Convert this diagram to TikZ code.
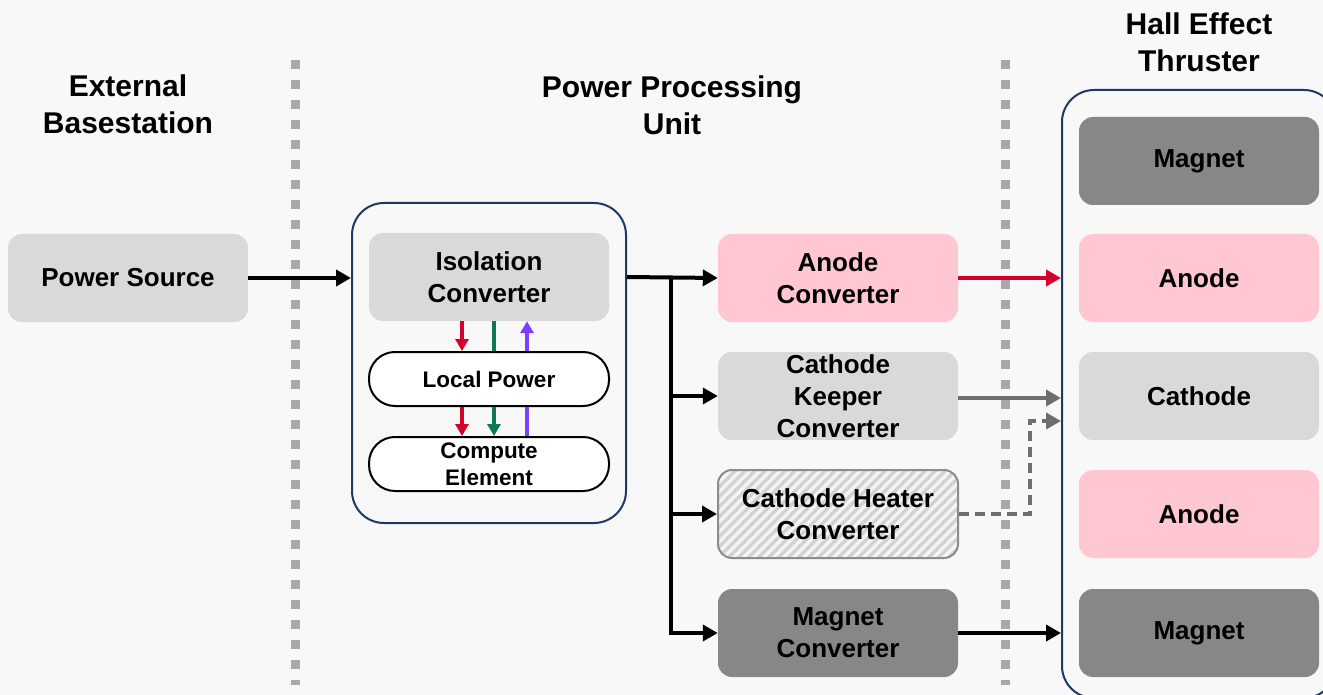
\documentclass[tikz,border=0pt]{standalone}
\usepackage{fontspec}
\setmainfont{Liberation Sans}
\usetikzlibrary{arrows.meta,calc}
\definecolor{bg}{HTML}{F8F8F8}
\definecolor{lgray}{HTML}{D9D9D9}
\definecolor{dgray}{HTML}{878787}
\definecolor{pinkf}{HTML}{FFC7D1}
\definecolor{navy}{HTML}{1F3864}
\definecolor{dotc}{HTML}{ABA7A7}
\definecolor{redA}{HTML}{D2002A}
\definecolor{greenA}{HTML}{0E7A50}
\definecolor{purpA}{HTML}{7F3FFF}
\definecolor{arrgray}{HTML}{6E6E6E}
\definecolor{hatchbg}{HTML}{F4F4F4}
\definecolor{hatchln}{HTML}{D2D2D2}
\definecolor{hatchbd}{HTML}{8C8C8C}
\begin{document}
\begin{tikzpicture}[x=1pt,y=-1pt,
  box/.style={rounded corners=14pt, minimum width=240pt, minimum height=88pt, align=center,
    font=\fontsize{26}{32}\selectfont\bfseries, inner sep=0pt},
  pill/.style={rounded corners=26pt, minimum width=240pt, minimum height=54pt, align=center,
    font=\fontsize{22.5}{27}\selectfont\bfseries, inner sep=0pt, draw=black, line width=2pt, fill=white},
  group/.style={draw=navy, line width=2pt, rounded corners=32pt, inner sep=0pt},
  title/.style={align=center, font=\fontsize{30}{37}\selectfont\bfseries},
  conn/.style={line width=4pt, -{Triangle[length=15pt,width=16pt]}},
  small/.style={line width=4pt, -{Triangle[length=12pt,width=13pt]}},
  smallline/.style={line width=4pt},
  divider/.style={dotc, line width=9pt, dash pattern=on 9pt off 11pt},
  hatch/.style={path picture={
    \foreach \i in {-13,...,26}{
      \draw[hatchln, line width=3.5pt] ($(path picture bounding box.south west)+(\i*10,0)$) -- ++(120,-120);}}}
]
\useasboundingbox[fill=bg] (0,0) rectangle (1323,695);

% dividers
\draw[divider] (295,60) -- (295,685);
\draw[divider] (1005,60) -- (1005,685);

% titles
\node[title] (t1) at (128,104) {External\\Basestation};
\node[title] (t2) at (672,105) {Power Processing\\Unit};
\node[title] (t3) at (1199,42) {Hall Effect\\Thruster};

% groups
\node[group, minimum width=274pt, minimum height=320pt] (ppu) at (489,363) {};
\node[group, minimum width=274pt, minimum height=608pt] (het) at (1199,394) {};

% external
\node[box, fill=lgray] (ps) at (128,278) {Power Source};

% PPU inner
\node[box, fill=lgray] (iso) at (489,277) {Isolation\\Converter};
\node[pill] (lp) at (489,379) {Local Power};
\node[pill] (ce) at (489,464) {Compute\\Element};

% converters
\node[box, fill=pinkf] (ac) at (838,278) {Anode\\Converter};
\node[box, fill=lgray] (ck) at (838,396) {Cathode\\Keeper\\Converter};
\node[box, fill=hatchbg, draw=hatchbd, line width=2pt, hatch] (ch) at (838,514) {Cathode Heater\\Converter};
\node[box, fill=dgray] (mc) at (838,633) {Magnet\\Converter};

% thruster
\node[box, fill=dgray] (hm1) at (1199,161) {Magnet};
\node[box, fill=pinkf] (ha1) at (1199,278) {Anode};
\node[box, fill=lgray] (hc) at (1199,396) {Cathode};
\node[box, fill=pinkf] (ha2) at (1199,514) {Anode};
\node[box, fill=dgray] (hm2) at (1199,633) {Magnet};

% internal arrows
\draw[small, redA] ([xshift=-27pt]iso.south) -- ([xshift=-27pt]lp.north);
\draw[smallline, greenA] ([xshift=5pt]iso.south) -- ([xshift=5pt]lp.north);
\draw[small, purpA] ([xshift=38pt]lp.north) -- ([xshift=38pt]iso.south);
\draw[small, redA] ([xshift=-27pt]lp.south) -- ([xshift=-27pt]ce.north);
\draw[small, greenA] ([xshift=5pt]lp.south) -- ([xshift=5pt]ce.north);
\draw[smallline, purpA] ([xshift=38pt]lp.south) -- ([xshift=38pt]ce.north);

% main connections
\draw[conn] (ps.east) -- (ps.east -| ppu.west);
\coordinate (bus) at (671,278);
\draw[conn] (iso.east -| ppu.east) -- (ac.west);
\draw[conn] (bus) |- (mc.west);
\draw[conn] (bus |- ck.west) -- (ck.west);
\draw[conn] (bus |- ch.west) -- (ch.west);

\draw[conn, redA] (ac.east) -- (ac.east -| het.west);
\draw[conn, arrgray] ([yshift=-2pt]ck.east) -- ([yshift=-2pt]ck.east -| het.west);
\coordinate (hk) at (1030,421);
\draw[conn, arrgray, dash pattern=on 10pt off 6pt] (ch.east) -| (hk) -- (hk -| het.west);
\draw[conn] (mc.east) -- (mc.east -| het.west);
\end{tikzpicture}
\end{document}
